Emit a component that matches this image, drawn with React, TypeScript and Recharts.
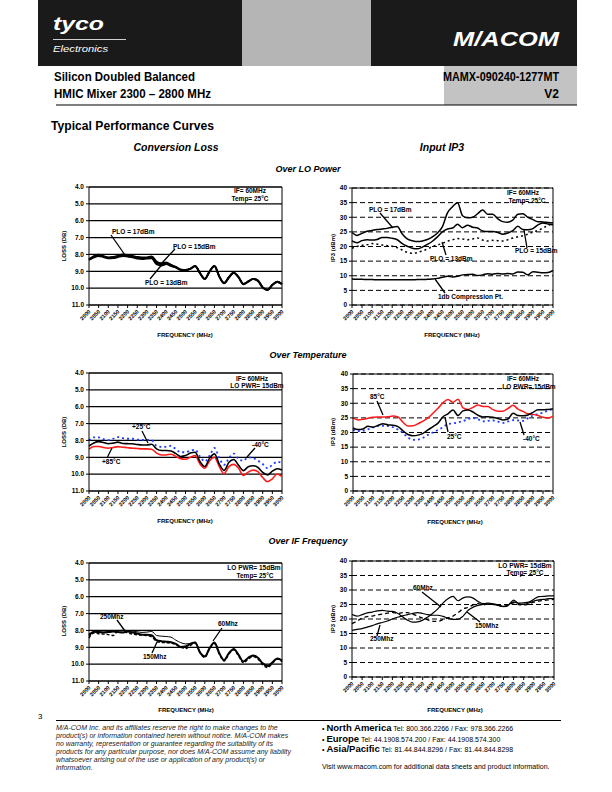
import React from 'react'
import { LineChart, Line, XAxis, YAxis, CartesianGrid, ReferenceLine } from 'recharts'

const FONT = "Arial, 'Liberation Sans', Helvetica, sans-serif"

// frequency grid (MHz) and the axis ticks
const FREQ = [
  2000, 2025, 2050, 2075, 2100, 2125, 2150, 2175, 2200, 2225, 2250, 2275, 2300, 2325,
  2350, 2375, 2400, 2425, 2450, 2475, 2500, 2525, 2550, 2575, 2600, 2625, 2650, 2675,
  2700, 2725, 2750, 2775, 2800, 2825, 2850, 2875, 2900, 2925, 2950, 2975, 3000,
]
const FREQ_TICKS = [
  2000, 2050, 2100, 2150, 2200, 2250, 2300, 2350, 2400, 2450, 2500,
  2550, 2600, 2650, 2700, 2750, 2800, 2850, 2900, 2950, 3000,
]
const LOSS_TICKS = [4, 5, 6, 7, 8, 9, 10, 11]
const IP3_TICKS = [0, 5, 10, 15, 20, 25, 30, 35, 40]

// Conversion loss over LO power (dB)
const lossPlo17 = [8.28, 8.10, 8.02, 8.10, 8.17, 8.15, 8.08, 8.00, 8.03, 8.08, 8.15, 8.18, 8.17, 8.12, 8.42, 8.52, 8.48, 8.62, 8.74, 8.90, 8.92, 8.85, 8.68, 9.10, 9.45, 9.00, 8.68, 9.30, 9.70, 9.35, 9.08, 9.35, 9.75, 9.60, 9.45, 9.55, 9.95, 10.10, 9.80, 9.62, 9.75]
const lossPlo15 = [8.30, 8.15, 8.05, 8.12, 8.20, 8.18, 8.12, 8.05, 8.08, 8.12, 8.20, 8.22, 8.20, 8.18, 8.50, 8.58, 8.52, 8.65, 8.75, 8.90, 8.92, 8.85, 8.68, 9.10, 9.45, 9.00, 8.68, 9.30, 9.70, 9.35, 9.08, 9.35, 9.75, 9.60, 9.45, 9.55, 9.95, 10.10, 9.80, 9.62, 9.75]
const lossPlo13 = [8.33, 8.18, 8.10, 8.16, 8.23, 8.22, 8.16, 8.10, 8.13, 8.17, 8.25, 8.27, 8.25, 8.24, 8.58, 8.66, 8.58, 8.70, 8.78, 8.92, 8.94, 8.86, 8.70, 9.12, 9.47, 9.02, 8.70, 9.32, 9.72, 9.37, 9.10, 9.37, 9.77, 9.62, 9.47, 9.57, 9.97, 10.12, 9.82, 9.64, 9.77]

// Input IP3 over LO power (dBm)
const ip3Plo17 = [24.8, 23.8, 24.5, 25.2, 25.5, 25.8, 26.0, 26.2, 26.6, 26.8, 24.3, 22.6, 22.0, 21.7, 21.9, 22.4, 23.3, 24.6, 26.8, 31.5, 33.6, 35.0, 30.5, 29.8, 30.0, 31.2, 32.5, 31.0, 31.0, 29.5, 28.5, 28.3, 29.0, 31.0, 31.2, 30.0, 29.2, 28.5, 28.4, 28.2, 28.0]
const ip3Plo15 = [21.9, 21.3, 22.0, 22.3, 22.2, 22.4, 23.1, 23.1, 22.8, 22.3, 21.0, 20.1, 19.4, 19.2, 19.8, 20.7, 21.8, 23.3, 25.0, 26.0, 26.3, 27.6, 26.4, 27.3, 26.6, 26.3, 25.3, 25.1, 25.1, 24.8, 24.2, 24.6, 25.4, 26.9, 25.8, 25.7, 26.1, 27.4, 28.0, 27.7, 27.4]
const ip3Plo13 = [19.4, 20.0, 20.4, 20.6, 21.0, 20.8, 20.5, 20.3, 20.1, 19.6, 18.8, 18.0, 17.7, 17.9, 18.5, 19.1, 20.0, 20.5, 21.1, 21.8, 22.3, 22.7, 22.6, 22.3, 22.6, 22.9, 22.2, 21.9, 22.1, 22.0, 21.9, 22.3, 22.9, 23.3, 23.7, 24.2, 24.9, 25.5, 26.3, 27.2, 28.0]
const p1dB = [8.9, 8.8, 8.8, 8.7, 8.7, 8.6, 8.6, 8.6, 8.6, 8.6, 8.6, 8.6, 8.6, 8.7, 8.7, 8.8, 8.9, 9.1, 9.5, 9.8, 9.6, 9.8, 10.3, 10.4, 10.5, 10.1, 10.3, 10.7, 10.5, 10.8, 10.6, 10.8, 10.6, 11.3, 11.2, 10.3, 11.4, 11.2, 11.0, 11.1, 11.8]

// Conversion loss over temperature (dB)
const lossT25 = [8.33, 8.15, 8.07, 8.12, 8.20, 8.16, 8.10, 8.18, 8.19, 8.20, 8.24, 8.27, 8.27, 8.23, 8.50, 8.60, 8.60, 8.63, 8.78, 8.95, 8.90, 8.75, 8.70, 9.25, 9.55, 9.05, 8.80, 9.40, 9.78, 9.30, 9.13, 9.47, 9.79, 9.56, 9.50, 9.60, 9.90, 10.05, 9.82, 9.68, 9.76]
const lossT85 = [8.52, 8.36, 8.36, 8.42, 8.46, 8.42, 8.37, 8.40, 8.43, 8.46, 8.48, 8.50, 8.50, 8.52, 8.75, 8.86, 8.86, 8.82, 8.95, 9.08, 9.12, 9.00, 8.90, 9.40, 9.65, 9.20, 9.00, 9.55, 9.97, 9.55, 9.42, 9.65, 10.08, 9.88, 9.76, 9.85, 10.20, 10.45, 10.28, 9.99, 10.15]
const lossTm40 = [8.00, 7.82, 7.82, 7.92, 7.98, 7.90, 7.80, 7.86, 7.90, 7.90, 7.95, 7.97, 7.97, 8.00, 8.32, 8.38, 8.38, 8.32, 8.52, 8.70, 8.70, 8.60, 8.55, 8.95, 9.25, 8.90, 8.45, 9.05, 9.45, 9.05, 8.78, 9.10, 9.20, 9.00, 9.05, 9.20, 9.40, 9.65, 9.45, 9.26, 9.36]

// Input IP3 over temperature (dBm)
const ip3T25 = [21.6, 21.0, 21.2, 22.1, 21.8, 22.4, 23.0, 22.6, 22.5, 22.0, 20.6, 19.3, 18.9, 19.1, 19.7, 20.9, 22.0, 23.2, 25.4, 26.4, 27.7, 25.8, 27.4, 27.7, 27.0, 25.9, 25.3, 25.4, 25.2, 24.8, 24.3, 24.6, 26.6, 25.8, 25.7, 26.0, 26.9, 27.8, 27.8, 27.9, 28.0]
const ip3T85 = [25.0, 24.3, 24.5, 24.9, 25.2, 25.3, 25.3, 25.4, 25.6, 25.3, 23.5, 22.2, 22.3, 23.0, 23.9, 25.0, 26.6, 28.3, 30.2, 31.3, 30.3, 31.4, 28.4, 27.9, 28.6, 29.4, 28.9, 28.9, 27.8, 27.3, 27.3, 28.2, 29.3, 28.0, 27.2, 26.4, 26.2, 25.8, 25.2, 25.0, 25.5]
const ip3Tm40 = [21.0, 20.5, 20.6, 21.1, 21.7, 22.3, 22.3, 22.2, 21.8, 21.0, 19.8, 18.3, 17.5, 17.6, 18.2, 19.2, 20.0, 20.9, 21.8, 22.9, 23.1, 23.5, 23.9, 24.6, 24.9, 24.5, 23.8, 24.0, 24.1, 23.7, 23.3, 23.8, 24.2, 24.1, 24.0, 24.9, 25.8, 26.3, 26.8, 27.5, 28.0]

// Conversion loss over IF frequency (dB)
const lossIf60 = [8.30, 8.08, 8.10, 8.13, 8.10, 8.07, 8.10, 8.13, 8.07, 8.12, 8.18, 8.26, 8.26, 8.28, 8.58, 8.64, 8.67, 8.70, 8.80, 8.98, 8.95, 8.80, 8.72, 9.30, 9.55, 9.05, 8.72, 9.35, 9.76, 9.35, 9.10, 9.45, 9.84, 9.62, 9.48, 9.62, 9.95, 10.10, 9.90, 9.66, 9.78]
const lossIf150 = [8.22, 8.10, 8.08, 8.10, 8.06, 8.03, 8.00, 8.02, 8.05, 8.05, 8.08, 8.12, 8.10, 8.06, 8.30, 8.34, 8.36, 8.40, 8.58, 8.72, 8.80, 8.78, 8.70, 9.28, 9.52, 9.05, 8.75, 9.36, 9.74, 9.36, 9.12, 9.46, 9.86, 9.64, 9.50, 9.63, 9.98, 10.15, 9.92, 9.68, 9.80]
const lossIf250 = [8.45, 8.15, 8.20, 8.22, 8.25, 8.30, 8.05, 8.00, 8.15, 8.22, 8.26, 8.28, 8.30, 8.38, 8.65, 8.72, 8.73, 8.75, 8.85, 9.00, 9.08, 8.90, 8.75, 9.32, 9.60, 9.10, 8.78, 9.40, 9.82, 9.40, 9.15, 9.52, 9.92, 9.70, 9.55, 9.70, 10.05, 10.20, 9.95, 9.70, 9.85]

// Input IP3 over IF frequency (dBm)
const ip3If60 = [21.6, 21.0, 21.5, 22.1, 22.4, 22.8, 23.0, 22.7, 22.6, 22.0, 20.8, 19.6, 18.9, 19.0, 19.6, 20.7, 22.0, 23.5, 25.5, 27.0, 27.8, 26.3, 27.3, 27.6, 27.2, 26.0, 25.3, 25.5, 25.2, 24.8, 24.3, 24.8, 26.5, 25.5, 25.6, 25.8, 26.8, 27.7, 27.8, 28.0, 28.0]
const ip3If150 = [18.4, 19.3, 20.3, 20.8, 21.0, 21.4, 21.7, 22.0, 22.3, 21.9, 22.2, 22.2, 21.7, 21.0, 20.3, 19.7, 19.2, 19.2, 19.8, 20.4, 21.0, 22.2, 23.5, 24.0, 24.9, 25.3, 24.9, 25.2, 25.0, 24.7, 24.2, 24.7, 25.6, 25.0, 24.8, 25.2, 25.8, 26.2, 26.4, 26.6, 26.8]
const ip3If250 = [16.1, 16.4, 16.7, 17.2, 17.7, 18.3, 18.8, 19.3, 20.0, 20.6, 21.1, 21.5, 21.9, 22.2, 21.9, 21.5, 21.3, 21.3, 20.9, 20.3, 19.9, 19.9, 21.0, 23.0, 24.1, 24.7, 25.0, 25.1, 25.0, 24.7, 24.4, 25.0, 25.9, 25.3, 25.1, 25.5, 26.2, 26.6, 26.8, 27.0, 27.0]

type Series = { key: string; values: number[]; color: string; width: number; dash?: string }

const FreqTick = (props: any) => {
  const { x, y, payload } = props
  const tx = x + 2
  const ty = y + 2
  return (
    <text x={tx} y={ty} transform={`rotate(-45 ${tx} ${ty})`} textAnchor="end"
      fontSize={5.5} fontWeight="bold" fontFamily={FONT} fill="#000">
      {payload.value}
    </text>
  )
}

function Panel({ x0, x1, y0, y1, loss, series }: {
  x0: number; x1: number; y0: number; y1: number; loss: boolean; series: Series[]
}) {
  const yW = 40
  const mTop = 6
  const mRight = 6
  const xH = 26
  const data = FREQ.map((f, i) => {
    const row: Record<string, number> = { f }
    series.forEach(s => { row[s.key] = s.values[i] })
    return row
  })
  return (
    <div style={{ position: 'absolute', left: x0 - yW, top: y0 - mTop }}>
      <LineChart width={x1 - x0 + yW + mRight} height={y1 - y0 + mTop + xH} data={data}
        margin={{ top: mTop, right: mRight, bottom: 0, left: 0 }}>
        <CartesianGrid vertical={false} stroke="#000" strokeWidth={loss ? 1.2 : 1}
          strokeDasharray={loss ? undefined : '5 3'} />
        <XAxis dataKey="f" type="number" domain={[2000, 3000]} ticks={FREQ_TICKS} interval={0}
          height={xH} tick={<FreqTick />} tickSize={3} stroke="#000" />
        <YAxis width={yW} domain={loss ? [4, 11] : [0, 40]} ticks={loss ? LOSS_TICKS : IP3_TICKS}
          reversed={loss} interval={0} tickSize={3} stroke="#000"
          tickFormatter={(v: number) => (loss ? v.toFixed(1) : String(v))}
          tick={{ fontSize: 6.5, fontWeight: 'bold', fill: '#000', fontFamily: FONT }} />
        <ReferenceLine x={3000} stroke="#000" />
        <ReferenceLine y={loss ? 4 : 40} stroke="#000" />
        {series.map(s => (
          <Line key={s.key} dataKey={s.key} type="monotone" stroke={s.color} strokeWidth={s.width}
            strokeDasharray={s.dash} dot={false} isAnimationActive={false} />
        ))}
      </LineChart>
    </div>
  )
}

type Note = { text: string; x: number; y: number; anchor?: 'start' | 'middle' | 'end' }
type Ptr = [number, number, number, number]

const notes: Note[] = [
  // conversion loss / LO power
  { text: 'IF= 60MHz', x: 250, y: 193, anchor: 'middle' },
  { text: 'Temp= 25°C', x: 250, y: 201, anchor: 'middle' },
  { text: 'PLO = 17dBm', x: 112, y: 234 },
  { text: 'PLO = 15dBm', x: 173, y: 249 },
  { text: 'PLO = 13dBm', x: 145, y: 285 },
  // IP3 / LO power
  { text: 'IF= 60MHz', x: 523, y: 195, anchor: 'middle' },
  { text: 'Temp= 25°C', x: 527, y: 203, anchor: 'middle' },
  { text: 'PLO = 17dBm', x: 369, y: 212 },
  { text: 'PLO = 13dBm', x: 430, y: 261 },
  { text: 'PLO = 15dBm', x: 515, y: 253 },
  { text: '1db Compression Pt.', x: 438, y: 299 },
  // loss / temperature
  { text: 'IF= 60MHz', x: 252, y: 381, anchor: 'middle' },
  { text: 'LO PWR= 15dBm', x: 257, y: 388, anchor: 'middle' },
  { text: '+25°C', x: 132, y: 429 },
  { text: '+85°C', x: 102, y: 464 },
  { text: '-40°C', x: 252, y: 447 },
  // IP3 / temperature
  { text: 'IF= 60MHz', x: 523, y: 381, anchor: 'middle' },
  { text: 'LO PWR= 15dBm', x: 529, y: 389, anchor: 'middle' },
  { text: '85°C', x: 370, y: 399 },
  { text: '25°C', x: 447, y: 439 },
  { text: '-40°C', x: 523, y: 441 },
  // loss / IF
  { text: 'LO PWR= 15dBm', x: 254, y: 570, anchor: 'middle' },
  { text: 'Temp= 25°C', x: 255, y: 578, anchor: 'middle' },
  { text: '250Mhz', x: 100, y: 619 },
  { text: '150Mhz', x: 143, y: 659 },
  { text: '60Mhz', x: 218, y: 626 },
  // IP3 / IF
  { text: 'LO PWR= 15dBm', x: 525, y: 568, anchor: 'middle' },
  { text: 'Temp= 25°C', x: 525, y: 575, anchor: 'middle' },
  { text: '60Mhz', x: 413, y: 590 },
  { text: '150Mhz', x: 475, y: 628 },
  { text: '250Mhz', x: 370, y: 641 },
]

const pointers: Ptr[] = [
  [111, 235, 125, 255], [175, 249, 160, 265], [150, 279, 164, 262],
  [380, 213, 393, 228], [446, 255, 442, 242], [527, 248, 524, 230], [445, 293, 435, 279],
  [142, 431, 148, 443], [107, 458, 112, 448], [255, 448, 247, 457],
  [377, 401, 383, 415], [448, 432, 445, 417], [524, 435, 520, 422],
  [117, 620, 125, 631], [152, 653, 157, 642], [222, 628, 213, 641],
  [422, 592, 441, 607], [480, 622, 467, 612], [377, 636, 380, 625],
]

const freqLabels = [[185, 335], [452, 335], [185, 521], [455, 522], [186, 710], [455, 710]]
const yTitles: [string, number, number][] = [
  ['LOSS (DB)', 64, 246], ['IP3 (dBm)', 333, 248], ['LOSS (DB)', 64, 432],
  ['IP3 (dBm)', 333, 432], ['LOSS (DB)', 64, 621], ['IP3 (dBm)', 333, 619],
]

const disclaimer = [
  'M/A-COM Inc. and its affiliates reserve the right to make changes to the',
  'product(s) or information contained herein without notice. M/A-COM makes',
  'no warranty, representation or guarantee regarding the suitability of its',
  'products for any particular purpose, nor does M/A-COM assume any liability',
  'whatsoever arising out of the use or application of any product(s) or',
  'information.',
]
const offices = [
  ['North America', 'Tel: 800.366.2266 / Fax: 978.366.2266'],
  ['Europe', 'Tel: 44.1908.574.200 / Fax: 44.1908.574.300'],
  ['Asia/Pacific', 'Tel: 81.44.844.8296 / Fax: 81.44.844.8298'],
]

export default function App() {
  return (
    <div style={{ position: 'absolute', left: 0, top: 0, width: 612, height: 792, background: '#fff', fontFamily: FONT }}>
      <Panel x0={89} x1={282} y0={187} y1={305} loss series={[
        { key: 'p17', values: lossPlo17, color: '#000', width: 1.8 },
        { key: 'p15', values: lossPlo15, color: '#000', width: 1.8 },
        { key: 'p13', values: lossPlo13, color: '#000', width: 1.8 },
      ]} />
      <Panel x0={352} x1={553} y0={188} y1={305} loss={false} series={[
        { key: 'p17', values: ip3Plo17, color: '#000', width: 1.5 },
        { key: 'p15', values: ip3Plo15, color: '#000', width: 1.5 },
        { key: 'p13', values: ip3Plo13, color: '#000', width: 1.5, dash: '2 3' },
        { key: 'p1', values: p1dB, color: '#000', width: 1.5 },
      ]} />
      <Panel x0={89} x1={282} y0={373} y1={491} loss series={[
        { key: 'tm40', values: lossTm40, color: '#1f3cff', width: 1.8, dash: '2 3' },
        { key: 't85', values: lossT85, color: '#ff1a1a', width: 1.6 },
        { key: 't25', values: lossT25, color: '#000', width: 1.6 },
      ]} />
      <Panel x0={353} x1={553} y0={374} y1={491} loss={false} series={[
        { key: 'tm40', values: ip3Tm40, color: '#1f3cff', width: 1.8, dash: '2 3' },
        { key: 't85', values: ip3T85, color: '#ff1a1a', width: 1.5 },
        { key: 't25', values: ip3T25, color: '#000', width: 1.5 },
      ]} />
      <Panel x0={89} x1={282} y0={563} y1={681} loss series={[
        { key: 'i250', values: lossIf250, color: '#000', width: 1.4, dash: '3 2' },
        { key: 'i150', values: lossIf150, color: '#000', width: 1 },
        { key: 'i60', values: lossIf60, color: '#000', width: 2 },
      ]} />
      <Panel x0={352} x1={554} y0={561} y1={677} loss={false} series={[
        { key: 'i60', values: ip3If60, color: '#000', width: 1.2 },
        { key: 'i150', values: ip3If150, color: '#000', width: 1.3, dash: '4 3' },
        { key: 'i250', values: ip3If250, color: '#000', width: 1.2 },
      ]} />

      <svg width={612} height={792} style={{ position: 'absolute', left: 0, top: 0, pointerEvents: 'none' }}
        fontFamily={FONT}>
        {/* header band */}
        <rect x={38} y={0} width={204} height={66} fill="#1a1a1a" />
        <rect x={242} y={0} width={129} height={66} fill="#b5b5b5" />
        <rect x={371} y={0} width={206} height={66} fill="#1a1a1a" />
        <rect x={444} y={66} width={133} height={39} fill="#c3c3c3" />
        <text x={53} y={30} fill="#fff" fontSize={19} fontWeight="bold" fontStyle="italic"
          textLength={51} lengthAdjust="spacingAndGlyphs">tyco</text>
        <line x1={53} y1={39.5} x2={126} y2={39.5} stroke="#fff" strokeWidth={0.8} />
        <text x={53} y={51.5} fill="#fff" fontSize={9} fontStyle="italic"
          textLength={55} lengthAdjust="spacingAndGlyphs">Electronics</text>
        <text x={453} y={46} fill="#fff" fontSize={21} fontWeight="bold" fontStyle="italic"
          textLength={106} lengthAdjust="spacingAndGlyphs">M/ACOM</text>
        <text x={54} y={81} fontSize={12} fontWeight="bold" textLength={141} lengthAdjust="spacingAndGlyphs">Silicon Doubled Balanced</text>
        <text x={54} y={98} fontSize={12} fontWeight="bold" textLength={157} lengthAdjust="spacingAndGlyphs">HMIC Mixer 2300 – 2800 MHz</text>
        <text x={559} y={81} fontSize={12} fontWeight="bold" textAnchor="end" textLength={116} lengthAdjust="spacingAndGlyphs">MAMX-090240-1277MT</text>
        <text x={559} y={98} fontSize={12} fontWeight="bold" textAnchor="end">V2</text>
        <line x1={56} y1={105} x2={577} y2={105} stroke="#000" strokeWidth={1.2} />

        <text x={51} y={129.5} fontSize={12.5} fontWeight="bold" textLength={163} lengthAdjust="spacingAndGlyphs">Typical Performance Curves</text>
        <text x={176} y={151} fontSize={10.5} fontWeight="bold" fontStyle="italic" textAnchor="middle">Conversion Loss</text>
        <text x={442} y={151} fontSize={10.5} fontWeight="bold" fontStyle="italic" textAnchor="middle">Input IP3</text>
        <text x={308} y={171.5} fontSize={9} fontWeight="bold" fontStyle="italic" textAnchor="middle">Over LO Power</text>
        <text x={308} y={358} fontSize={9} fontWeight="bold" fontStyle="italic" textAnchor="middle">Over Temperature</text>
        <text x={308} y={544} fontSize={9} fontWeight="bold" fontStyle="italic" textAnchor="middle">Over IF Frequency</text>

        {freqLabels.map(([x, y], i) => (
          <text key={'f' + i} x={x} y={y + 2} fontSize={6} fontWeight="bold" textAnchor="middle">FREQUENCY (MHz)</text>
        ))}
        {yTitles.map(([t, x, y], i) => (
          <text key={'y' + i} x={x} y={y} fontSize={6} fontWeight="bold" textAnchor="middle"
            transform={`rotate(-90 ${x} ${y})`} dy={2}>{t}</text>
        ))}

        {pointers.map(([a, b, c, d], i) => (
          <line key={'p' + i} x1={a} y1={b} x2={c} y2={d} stroke="#000" strokeWidth={1.3} />
        ))}
        {notes.map((n, i) => (
          <text key={'n' + i} x={n.x} y={n.y} fontSize={6.5} fontWeight="bold" textAnchor={n.anchor ?? 'start'}>{n.text}</text>
        ))}

        {/* footer */}
        <text x={38} y={719} fontSize={8}>3</text>
        <line x1={56} y1={720.5} x2={561} y2={720.5} stroke="#000" strokeWidth={1} />
        {disclaimer.map((t, i) => (
          <text key={'d' + i} x={56} y={730 + i * 8} fontSize={7} fontStyle="italic" fill="#222">{t}</text>
        ))}
        {offices.map(([r, t], i) => (
          <text key={'o' + i} x={322} y={731 + i * 10.5} fontSize={7}>
            <tspan>{'•  '}</tspan>
            <tspan fontSize={9.5} fontWeight="bold">{r}</tspan>
            <tspan>{'  ' + t}</tspan>
          </text>
        ))}
        <text x={322} y={769} fontSize={7}>Visit www.macom.com for additional data sheets and product information.</text>
      </svg>
    </div>
  )
}
